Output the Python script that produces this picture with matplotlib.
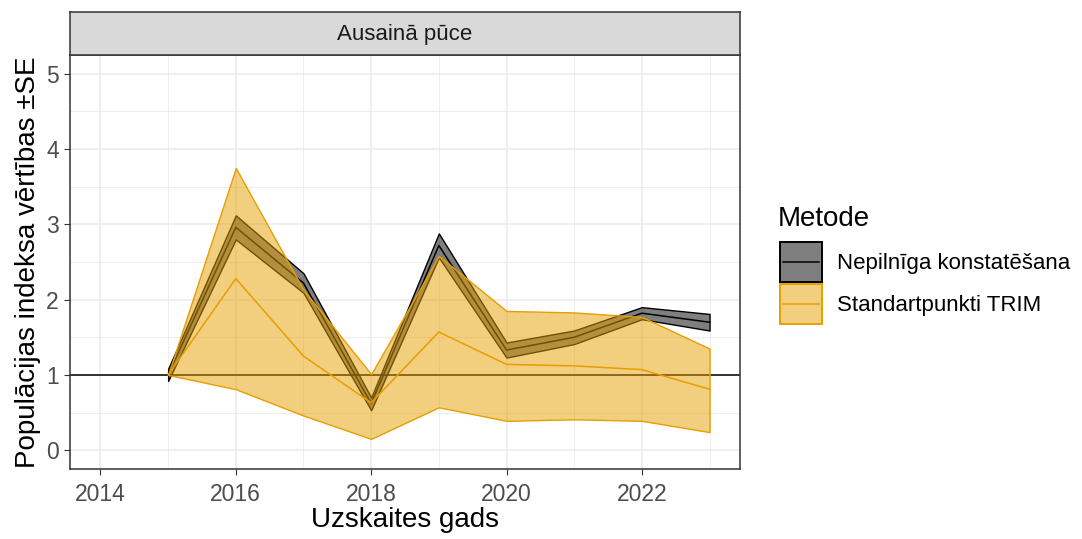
import numpy as np
import matplotlib
matplotlib.use("Agg")
import matplotlib.pyplot as plt
from matplotlib.patches import Rectangle
from matplotlib.lines import Line2D
from matplotlib.ticker import MultipleLocator

plt.rcParams['font.family'] = ['Liberation Sans', 'DejaVu Sans']

years = [2015, 2016, 2017, 2018, 2019, 2020, 2021, 2022, 2023]

# Nepilnīga konstatēšana
nep_mid = [1.00, 2.96, 2.22, 0.62, 2.72, 1.33, 1.50, 1.82, 1.70]
nep_lo = [0.92, 2.80, 2.09, 0.53, 2.56, 1.23, 1.41, 1.74, 1.59]
nep_hi = [1.08, 3.12, 2.35, 0.70, 2.88, 1.43, 1.59, 1.90, 1.81]

# Standartpunkti TRIM
trim_mid = [1.00, 2.28, 1.25, 0.63, 1.57, 1.14, 1.12, 1.07, 0.81]
trim_lo = [1.00, 0.81, 0.46, 0.15, 0.57, 0.39, 0.41, 0.39, 0.24]
trim_hi = [1.00, 3.75, 2.13, 1.01, 2.58, 1.85, 1.83, 1.77, 1.35]

series_names = ['Nepilnīga konstatēšana', 'Standartpunkti TRIM']
facet_title = 'Ausainā pūce'

W, H = 1082, 539
fig = plt.figure(figsize=(W / 100, H / 100), dpi=100)
ax = fig.add_axes([70 / W, 1 - 469 / H, 670 / W, 414 / H])

ax.axhline(1, color='black', lw=1.1, zorder=1)

ax.fill_between(years, nep_lo, nep_hi, facecolor=(0, 0, 0, 0.5),
                edgecolor='black', lw=1.0, zorder=2)
ax.plot(years, nep_mid, color='black', lw=1.1, zorder=2.1)

ax.fill_between(years, trim_lo, trim_hi, facecolor=(0.902, 0.624, 0, 0.5),
                edgecolor='#E69F00', lw=1.0, zorder=3)
ax.plot(years, trim_mid, color='#E69F00', lw=1.1, zorder=3.1)

ax.set_xlim(2013.55, 2023.45)
ax.set_ylim(-0.25, 5.25)
ax.xaxis.set_major_locator(MultipleLocator(2))
ax.xaxis.set_minor_locator(MultipleLocator(1))
ax.yaxis.set_major_locator(MultipleLocator(1))
ax.yaxis.set_minor_locator(MultipleLocator(0.5))
ax.grid(which='major', color='#EBEBEB', lw=1.1, zorder=0)
ax.grid(which='minor', color='#EBEBEB', lw=0.6, zorder=0)
ax.set_axisbelow(True)
ax.tick_params(which='minor', length=0)
ax.tick_params(which='major', length=4, color='#333333', labelsize=16.5,
               labelcolor='#4D4D4D', pad=4)
ax.tick_params(axis='x', pad=6)
for s in ax.spines.values():
    s.set_color('#333333')
    s.set_linewidth(1.1)

ax.set_xlabel('Uzskaites gads', fontsize=20, color='black', labelpad=1)
ax.set_ylabel('Populācijas indeksa vērtības ±SE', fontsize=20, color='black')
ax.yaxis.set_label_coords((41 - 70) / 670, 0.5)

# facet strip
strip = fig.add_axes([70 / W, 1 - 55 / H, 670 / W, 43 / H])
strip.set_facecolor('#D9D9D9')
strip.set_xticks([])
strip.set_yticks([])
for s in strip.spines.values():
    s.set_color('#333333')
    s.set_linewidth(1.1)
strip.text(0.5, 0.47, facet_title, ha='center', va='center', fontsize=16, color='#1A1A1A')

# legend drawn by hand (ggplot style keys: fill box + centre line)
fig.text(778 / W, 1 - 226 / H, 'Metode', fontsize=20, va='baseline', ha='left')
key_fill = [(0, 0, 0, 0.5), (0.902, 0.624, 0, 0.5)]
key_line = ['black', '#E69F00']
key_top = [242, 284]
for name, fc, lc, top in zip(series_names, key_fill, key_line, key_top):
    fig.add_artist(Rectangle((780 / W, 1 - (top + 40) / H), 42 / W, 40 / H,
                             facecolor=fc, edgecolor=lc, lw=1.4,
                             transform=fig.transFigure))
    yc = 1 - (top + 20) / H
    fig.add_artist(Line2D([783 / W, 819 / W], [yc, yc], color=lc, lw=1.1,
                          transform=fig.transFigure))
    fig.text(837 / W, 1 - (top + 27) / H, name, fontsize=16, va='baseline', ha='left')

fig.savefig('out.png', dpi=100)
